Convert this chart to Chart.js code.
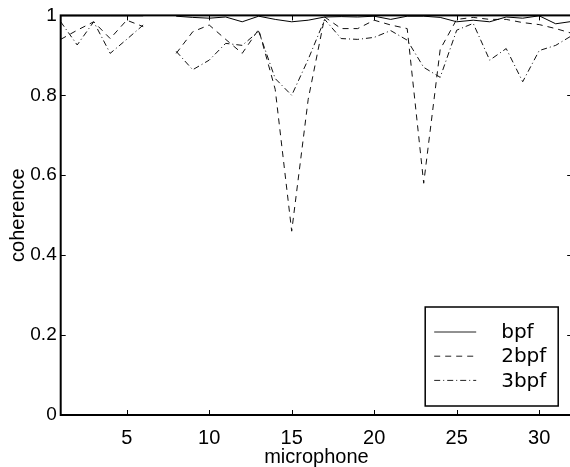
<!DOCTYPE html>
<html>
<head>
<meta charset="utf-8">
<script src="https://cdn.jsdelivr.net/npm/chart.js@4/dist/chart.umd.min.js"></script>
<style>
  html, body { margin: 0; padding: 0; background: #fff; overflow: hidden; }
  #wrap { width: 580px; height: 467px; }
</style>
</head>
<body>
<div id="wrap"><canvas id="c" width="580" height="467"></canvas></div>
<script>
// Coherence per microphone for the blade-pass frequency and its harmonics
const microphones = [1,2,3,4,5,6,7,8,9,10,11,12,13,14,15,16,17,18,19,20,21,22,23,24,25,26,27,28,29,30,31,32];
const bpf  = [0.999,0.999,0.999,0.999,0.999,0.999,null,0.998,0.995,0.993,0.996,0.984,0.998,0.990,0.984,0.988,0.996,0.997,0.996,0.998,0.990,0.998,0.998,0.995,0.984,0.988,0.984,0.996,0.993,0.999,0.979,0.985];
const bpf2 = [0.940,0.963,0.984,0.942,0.988,0.972,null,0.905,0.959,0.976,0.940,0.905,0.965,0.815,0.460,0.790,0.996,0.967,0.967,0.988,0.976,0.967,0.580,0.915,0.990,0.995,0.990,0.990,0.982,0.977,0.967,0.955];
const bpf3 = [0.984,0.926,0.984,0.905,0.940,0.976,null,0.910,0.864,0.888,0.930,0.925,0.960,0.842,0.800,0.890,0.990,0.942,0.940,0.945,0.962,0.938,0.870,0.845,0.963,0.980,0.888,0.917,0.834,0.912,0.925,0.950];
const seriesNames = ['bpf', '2bpf', '3bpf'];
const xTickValues = [5, 10, 15, 20, 25, 30];
const yTickValues = [0, 0.2, 0.4, 0.6, 0.8, 1];
const yTickLabels = ['0', '0.2', '0.4', '0.6', '0.8', '1'];

const toPoints = vals => microphones.map((m, i) => ({ x: m, y: vals[i] }));

const axisFont = { family: '"Liberation Sans", Arial, sans-serif', size: 20, lineHeight: 1.2 };

// Box around the axes with inward tick marks on all four sides, plus the legend
const framePlugin = {
  id: 'frame',
  afterDatasetsDraw(chart) {
    const { ctx, chartArea: a, scales: { x, y } } = chart;
    ctx.save();
    ctx.strokeStyle = '#000';
    ctx.lineWidth = 1;
    const tl = 5;
    ctx.beginPath();
    x.ticks.forEach(t => {
      const px = Math.round(x.getPixelForValue(t.value)) + 0.5;
      ctx.moveTo(px, a.bottom); ctx.lineTo(px, a.bottom - tl);
      ctx.moveTo(px, a.top); ctx.lineTo(px, a.top + tl);
    });
    y.ticks.forEach(t => {
      const py = Math.round(y.getPixelForValue(t.value)) + 0.5;
      ctx.moveTo(a.left, py); ctx.lineTo(a.left + tl, py);
      ctx.moveTo(a.right, py); ctx.lineTo(a.right - tl, py);
    });
    ctx.stroke();
    ctx.lineWidth = 2;
    ctx.strokeRect(a.left, a.top, a.right - a.left, a.bottom - a.top);

    // legend
    const bw = 133, bh = 99;
    const bx = a.right - 14 - bw, by = a.bottom - 9 - bh;
    ctx.fillStyle = '#fff';
    ctx.fillRect(bx, by, bw, bh);
    ctx.lineWidth = 1.5;
    ctx.strokeRect(bx, by, bw, bh);
    ctx.font = '20px "DejaVu Sans", sans-serif';
    ctx.textBaseline = 'middle';
    ctx.textAlign = 'left';
    chart.data.datasets.forEach((ds, i) => {
      const ly = by + 25 + i * 24.2;
      ctx.beginPath();
      ctx.setLineDash(ds.borderDash || []);
      ctx.lineWidth = 1;
      ctx.strokeStyle = '#222';
      ctx.moveTo(bx + 9, ly); ctx.lineTo(bx + 51, ly);
      ctx.stroke();
      ctx.setLineDash([]);
      ctx.fillStyle = '#000';
      ctx.fillText(ds.label, bx + 76, ly + 1);
    });
    ctx.restore();
  }
};

new Chart(document.getElementById('c'), {
  type: 'line',
  data: {
    datasets: [
      { label: seriesNames[0], data: toPoints(bpf),  borderColor: '#000', borderWidth: 1, borderDash: [] },
      { label: seriesNames[1], data: toPoints(bpf2), borderColor: '#111', borderWidth: 1, borderDash: [6, 5] },
      { label: seriesNames[2], data: toPoints(bpf3), borderColor: '#111', borderWidth: 1, borderDash: [6, 3, 1, 3] }
    ]
  },
  options: {
    responsive: false,
    devicePixelRatio: 1,
    animation: false,
    spanGaps: false,
    elements: { point: { radius: 0 }, line: { tension: 0 } },
    layout: { padding: { left: 0, top: 13.5, right: 7.8, bottom: 0 } },
    plugins: { legend: { display: false }, tooltip: { enabled: false } },
    scales: {
      x: {
        type: 'linear', min: 1, max: 32,
        grid: { display: false, drawTicks: false },
        border: { display: false },
        ticks: { color: '#000', font: axisFont, padding: 11, maxRotation: 0 },
        title: { display: true, text: 'microphone', color: '#000',
                 font: { family: axisFont.family, size: 20, lineHeight: 1 }, padding: { top: 0, bottom: 0 } },
        afterBuildTicks: s => { s.ticks = xTickValues.map(v => ({ value: v })); },
        afterFit: s => { s.height = 52; }
      },
      y: {
        type: 'linear', min: 0, max: 1,
        grid: { display: false, drawTicks: false },
        border: { display: false },
        ticks: { color: '#000', font: { family: axisFont.family, size: 19 }, padding: 4,
                 callback: v => yTickLabels[yTickValues.indexOf(v)] },
        title: { display: true, text: 'coherence', color: '#000',
                 font: { family: axisFont.family, size: 20, lineHeight: 1 }, padding: { top: 8, bottom: 0 } },
        afterBuildTicks: s => { s.ticks = yTickValues.map(v => ({ value: v })); },
        afterFit: s => { s.width = 60.7; }
      }
    }
  },
  plugins: [framePlugin]
});
</script>
</body>
</html>
